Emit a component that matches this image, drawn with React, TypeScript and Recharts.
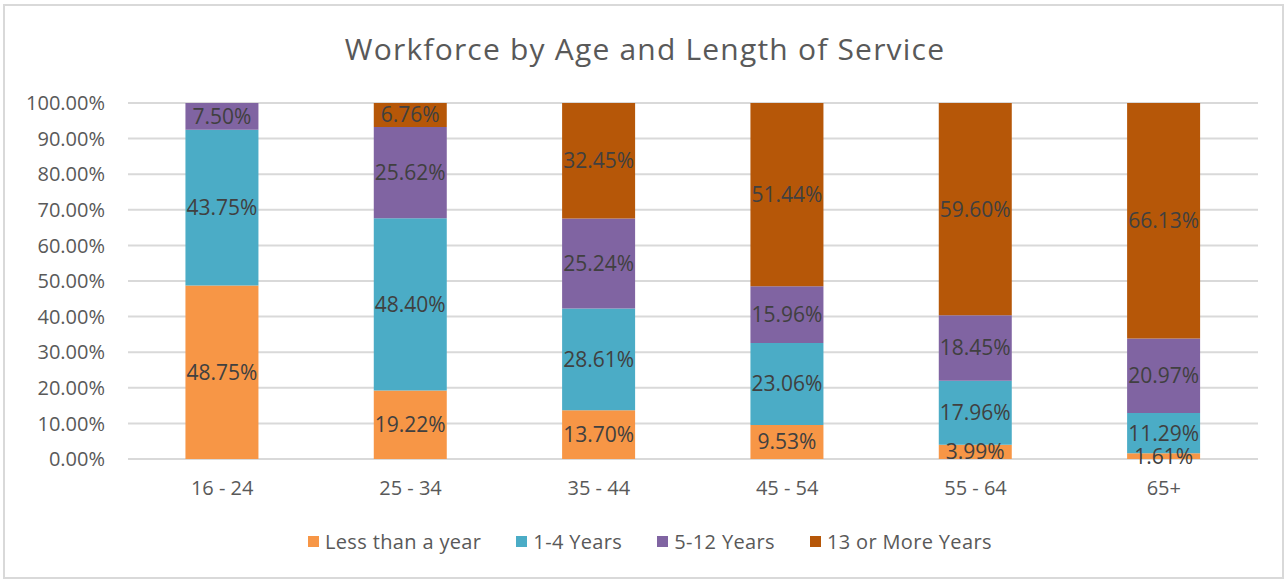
import React from 'react';
import { BarChart, Bar, XAxis, YAxis, CartesianGrid, LabelList, Legend } from 'recharts';

const categories = ['16 - 24', '25 - 34', '35 - 44', '45 - 54', '55 - 64', '65+'];
const lessThanYear = [48.75, 19.22, 13.7, 9.53, 3.99, 1.61];
const oneToFour = [43.75, 48.4, 28.61, 23.06, 17.96, 11.29];
const fiveToTwelve = [7.5, 25.62, 25.24, 15.96, 18.45, 20.97];
const thirteenPlus: (number | null)[] = [null, 6.76, 32.45, 51.44, 59.6, 66.13];
const yTicks = [0, 10, 20, 30, 40, 50, 60, 70, 80, 90, 100];

const seriesNames = ['Less than a year', '1-4 Years', '5-12 Years', '13 or More Years'];
const seriesKeys = ['a', 'b', 'c', 'd'];
const seriesColors = ['#F79646', '#4BACC6', '#8064A2', '#B65708'];

const data = categories.map((name, i) => ({
  name,
  a: lessThanYear[i],
  b: oneToFour[i],
  c: fiveToTwelve[i],
  d: thirteenPlus[i],
}));

const FONT = "'Open Sans', sans-serif";

const fmt = (v: any) => (v == null || v === 0 ? '' : `${Number(v).toFixed(2)}%`);

const LegendContent = () => (
  <div style={{ display: 'flex', alignItems: 'center', fontFamily: FONT, fontSize: 20, letterSpacing: 0.35, color: '#595959', whiteSpace: 'nowrap' }}>
    {seriesNames.map((n, i) => (
      <div key={n} style={{ display: 'flex', alignItems: 'center', marginRight: i < 3 ? 35 : 0 }}>
        <div style={{ width: 11, height: 11, background: seriesColors[i], marginRight: 6 }} />
        <span>{n}</span>
      </div>
    ))}
  </div>
);

export default function App() {
  return (
    <div style={{ position: 'absolute', left: 0, top: 0, width: 1286, height: 581, background: '#fff' }}>
      <div style={{ position: 'absolute', left: 3, top: 4, width: 1277, height: 571, border: '2px solid #D9D9D9' }} />
      <div style={{ position: 'absolute', left: 0, top: 28, width: 1290, textAlign: 'center', fontFamily: FONT, fontSize: 30, letterSpacing: 1.2, color: '#595959' }}>
        Workforce by Age and Length of Service
      </div>
      <BarChart
        width={1286}
        height={581}
        data={data}
        margin={{ top: 103, right: 28, bottom: 62, left: 0 }}
        barCategoryGap="30.5%"
        style={{ position: 'absolute', left: 0, top: 0 }}
      >
        <CartesianGrid vertical={false} stroke="#D9D9D9" strokeWidth={2} />
        <XAxis
          dataKey="name"
          axisLine={false}
          tickLine={false}
          tickSize={0}
          tickMargin={22}
          height={60}
          tick={{ fill: '#595959', fontSize: 20, fontFamily: FONT }}
        />
        <YAxis
          type="number"
          domain={[0, 100]}
          ticks={yTicks}
          interval={0}
          axisLine={false}
          tickLine={false}
          tickSize={0}
          tickMargin={23}
          width={128}
          tickFormatter={(v: number) => `${v.toFixed(2)}%`}
          tick={{ fill: '#595959', fontSize: 20, fontFamily: FONT }}
        />
        <Legend
          layout="horizontal"
          verticalAlign="middle"
          align="center"
          wrapperStyle={{ top: 528, left: 308, width: 'auto' }}
          content={() => <LegendContent />}
        />
        {seriesKeys.map((k, i) => (
          <Bar key={k} dataKey={k} name={seriesNames[i]} stackId="s" fill={seriesColors[i]} isAnimationActive={false}>
            <LabelList dataKey={k} position="center" formatter={fmt} fill="#404040" style={{ fontSize: 21, fontFamily: FONT, fill: '#404040' }} />
          </Bar>
        ))}
      </BarChart>
    </div>
  );
}
